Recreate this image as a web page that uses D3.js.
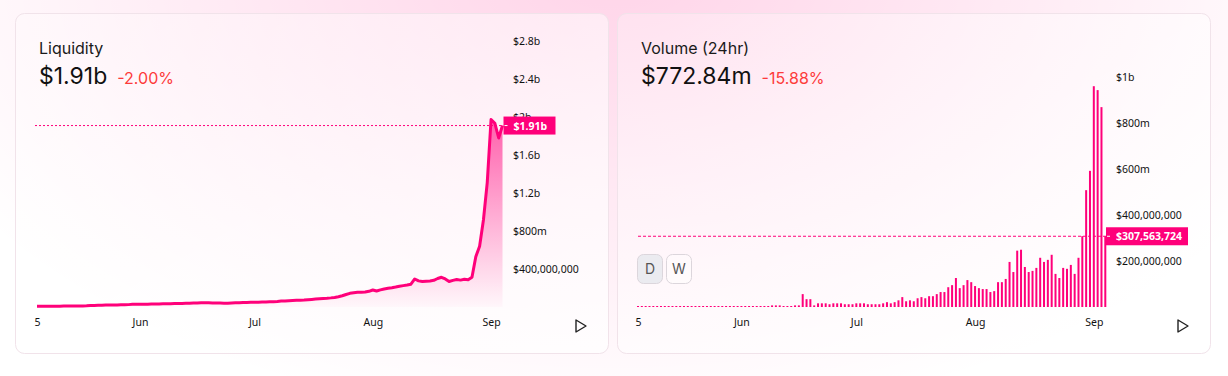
<!DOCTYPE html>
<html>
<head>
<meta charset="utf-8">
<script src="https://cdn.jsdelivr.net/npm/d3@7"></script>
<style>
  html, body { margin: 0; padding: 0; background: #fff; }
  svg { display: block; }
  .tick text { font-family: "Noto Sans", sans-serif; font-size: 10.5px; fill: #111; }
</style>
</head>
<body>
<svg id="chart" width="1228" height="376"></svg>
<script>
// daily values from 5 May, in millions of dollars
const firstDay = new Date(2021, 4, 5);

const liquidity = [
  8, 8, 8, 9, 9, 9, 9, 10, 10, 10, 10, 10, 11, 13, 16, 17, 18, 19, 20, 21,
  22, 22, 23, 24, 25, 28, 28, 29, 29, 30, 31, 31, 32, 33, 34, 35, 36, 37, 38, 39,
  40, 41, 42, 44, 45, 44, 43, 42, 41, 40, 40, 42, 44, 45, 47, 48, 49, 50, 51, 52,
  53, 55, 56, 58, 62, 64, 66, 68, 70, 72, 74, 77, 80, 83, 86, 89, 92, 96, 101, 108,
  118, 132, 144, 150, 155, 155, 157, 165, 179, 168, 180, 190, 197, 203, 210, 218, 225, 232, 240, 295,
  275, 268, 272, 274, 281, 300, 313, 295, 268, 280, 289, 283, 292, 287, 313, 530, 640, 916, 1310, 1974,
  1934, 1779, 1910
];

const volume = [
  3, 3, 2, 3, 3, 3, 2, 3, 3, 3, 3, 2, 3, 3, 3, 3, 2, 3, 3, 3,
  3, 3, 2, 3, 3, 3, 3, 3, 3, 3, 3, 3, 3, 3, 3, 7, 7, 7, 3, 3,
  3, 7, 7, 56, 34, 34, 7, 16, 16, 16, 12, 16, 16, 16, 12, 12, 12, 16, 16, 16,
  12, 12, 12, 12, 16, 21, 16, 21, 29, 43, 25, 29, 25, 38, 43, 38, 47, 47, 56, 65,
  65, 86, 95, 126, 82, 95, 117, 108, 91, 82, 78, 78, 65, 69, 108, 108, 122, 196, 152, 245,
  249, 174, 152, 157, 170, 214, 196, 205, 227, 144, 126, 170, 166, 183, 144, 214, 308, 508, 592, 960,
  943, 869, 307.563724
];

const monthTicks = [new Date(2021, 4, 5), new Date(2021, 5, 1), new Date(2021, 6, 1), new Date(2021, 7, 1), new Date(2021, 8, 1)];
const monthLabels = ['5', 'Jun', 'Jul', 'Aug', 'Sep'];

const liqTicks = [400, 800, 1200, 1600, 2000, 2400, 2800];
const liqTickLabels = ['$400,000,000', '$800m', '$1.2b', '$1.6b', '$2b', '$2.4b', '$2.8b'];
const volTicks = [200, 400, 600, 800, 1000];
const volTickLabels = ['$200,000,000', '$400,000,000', '$600m', '$800m', '$1b'];

const titles = ['Liquidity', 'Volume (24hr)'];
const headlines = ['$1.91b', '$772.84m'];
const changes = ['-2.00%', '-15.88%'];
const hoverLabels = ['$1.91b', '$307,563,724'];

const pink = '#ff007a';
const days = liquidity.map((d, i) => d3.timeDay.offset(firstDay, i));
const lastDay = days[days.length - 1];

const svg = d3.select('#chart');
const defs = svg.append('defs');

// page glow
const glow = defs.append('radialGradient').attr('id', 'glow')
  .attr('gradientUnits', 'userSpaceOnUse')
  .attr('cx', 614).attr('cy', -30).attr('r', 760)
  .attr('gradientTransform', 'translate(614,-30) scale(1,0.6) translate(-614,30)');
glow.append('stop').attr('offset', 0).attr('stop-color', pink).attr('stop-opacity', 0.17);
glow.append('stop').attr('offset', 1).attr('stop-color', pink).attr('stop-opacity', 0);

const cardFill = defs.append('linearGradient').attr('id', 'cardFill')
  .attr('x1', 0).attr('y1', 0).attr('x2', 1).attr('y2', 1);
cardFill.append('stop').attr('offset', 0).attr('stop-color', '#fff').attr('stop-opacity', 0.25);
cardFill.append('stop').attr('offset', 1).attr('stop-color', '#fff').attr('stop-opacity', 0.75);

const areaFill = defs.append('linearGradient').attr('id', 'areaFill')
  .attr('x1', 0).attr('y1', 0).attr('x2', 0).attr('y2', 1);
areaFill.append('stop').attr('offset', 0).attr('stop-color', pink).attr('stop-opacity', 0.6);
areaFill.append('stop').attr('offset', 1).attr('stop-color', pink).attr('stop-opacity', 0.02);

svg.append('rect').attr('width', 1228).attr('height', 376).attr('fill', '#fff');
svg.append('rect').attr('width', 1228).attr('height', 376).attr('fill', 'url(#glow)');

// cards
const cardX = [15, 617];
cardX.forEach((cx, k) => {
  svg.append('rect')
    .attr('x', cx + 0.5).attr('y', 13.5)
    .attr('width', 593).attr('height', 340)
    .attr('rx', 9)
    .attr('fill', 'url(#cardFill)')
    .attr('stroke', '#f1e3ea');

  svg.append('text')
    .attr('x', cx + 24).attr('y', 54)
    .style('font-family', 'Inter, sans-serif').style('font-size', '16px')
    .attr('fill', '#1a1a1a')
    .text(titles[k]);

  const head = svg.append('text')
    .attr('x', cx + 24).attr('y', 84)
    .style('font-family', 'Inter, sans-serif');
  head.append('tspan').style('font-size', '23px').attr('fill', '#111').text(headlines[k]);
  head.append('tspan').attr('dx', 10).style('font-size', '16px').attr('fill', '#fd3b3b').text(changes[k]);

  // play icon
  svg.append('path')
    .attr('d', `M${cx + 561},320 L${cx + 571},326 L${cx + 561},332 Z`)
    .attr('fill', 'none').attr('stroke', '#222').attr('stroke-width', 1.4)
    .attr('stroke-linejoin', 'round');
});

function xAxis(scale) {
  return d3.axisBottom(scale)
    .tickValues(monthTicks)
    .tickFormat((d, i) => monthLabels[i])
    .tickSize(0).tickPadding(6.5);
}

function hover(x, y, text, w) {
  svg.append('rect')
    .attr('x', x).attr('y', y - 9).attr('width', w).attr('height', 18)
    .attr('fill', pink);
  svg.append('line')
    .attr('x1', x + 1).attr('x2', x + 4).attr('y1', y).attr('y2', y)
    .attr('stroke', '#fff').attr('stroke-width', 1);
  svg.append('text')
    .attr('x', x + 10).attr('y', y + 4)
    .style('font-family', '"Noto Sans", sans-serif').style('font-size', '10.5px')
    .style('font-weight', 700).attr('fill', '#fff')
    .text(text);
}

// ---- liquidity ----
const xL = d3.scaleTime().domain([firstDay, lastDay]).range([37, 502.5]);
const yL = d3.scaleLinear().domain([0, 2800]).range([307, 41]);

svg.append('path')
  .datum(liquidity)
  .attr('d', d3.area().x((d, i) => xL(days[i])).y0(307).y1(d => yL(d)))
  .attr('fill', 'url(#areaFill)');

svg.append('g')
  .attr('transform', 'translate(513,0)')
  .call(d3.axisRight(yL).tickValues(liqTicks).tickFormat((d, i) => liqTickLabels[i]).tickSize(0).tickPadding(0))
  .call(g => g.select('.domain').remove());

svg.append('g')
  .attr('transform', 'translate(0,312)')
  .call(xAxis(xL))
  .call(g => g.select('.domain').remove());

const lastLiq = liquidity[liquidity.length - 1];
svg.append('line')
  .attr('x1', 35).attr('x2', 503)
  .attr('y1', yL(lastLiq)).attr('y2', yL(lastLiq))
  .attr('stroke', pink).attr('stroke-width', 1).attr('stroke-dasharray', '2,2');

svg.append('path')
  .datum(liquidity)
  .attr('d', d3.line().x((d, i) => xL(days[i])).y(d => yL(d)))
  .attr('fill', 'none')
  .attr('stroke', pink)
  .attr('stroke-width', 3)
  .attr('stroke-linejoin', 'round');

hover(503.5, yL(lastLiq), hoverLabels[0], 52);

// ---- volume ----
const xV = d3.scaleTime().domain([firstDay, lastDay]).range([638, 1105.3]);
const yV = d3.scaleLinear().domain([0, 1000]).range([307, 77]);

svg.append('g')
  .attr('transform', 'translate(1116,0)')
  .call(d3.axisRight(yV).tickValues(volTicks).tickFormat((d, i) => volTickLabels[i]).tickSize(0).tickPadding(0))
  .call(g => g.select('.domain').remove());

svg.append('g')
  .attr('transform', 'translate(0,312)')
  .call(xAxis(xV))
  .call(g => g.select('.domain').remove());

const lastVol = volume[volume.length - 1];
svg.append('line')
  .attr('x1', 638).attr('x2', 1106)
  .attr('y1', yV(lastVol)).attr('y2', yV(lastVol))
  .attr('stroke', pink).attr('stroke-width', 1).attr('stroke-dasharray', '3,2');

svg.append('g')
  .selectAll('rect')
  .data(volume)
  .enter().append('rect')
    .attr('x', (d, i) => xV(days[i]) - 1)
    .attr('width', 2)
    .attr('y', d => Math.min(yV(d), 306))
    .attr('height', d => Math.max(307 - yV(d), 1))
    .attr('fill', pink);

hover(1106, yV(lastVol), hoverLabels[1], 82);

// D / W buttons
const buttons = ['D', 'W'];
buttons.forEach((b, i) => {
  const bx = 637 + i * 29;
  svg.append('rect')
    .attr('x', bx + 0.5).attr('y', 254.5).attr('width', 25).attr('height', 29).attr('rx', 6)
    .attr('fill', i === 0 ? '#ebebf0' : 'rgba(255,255,255,0.4)')
    .attr('stroke', '#dcd6dc');
  svg.append('text')
    .attr('x', bx + 13).attr('y', 274)
    .attr('text-anchor', 'middle')
    .style('font-family', 'Inter, sans-serif').style('font-size', '14px')
    .attr('fill', '#555')
    .text(b);
});
</script>
</body>
</html>
